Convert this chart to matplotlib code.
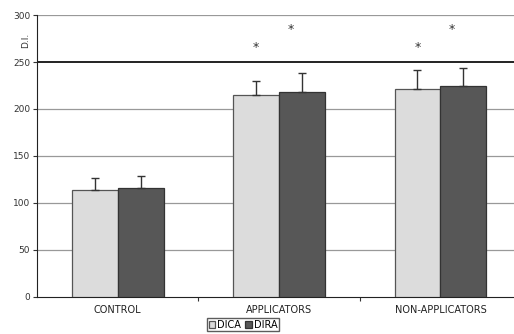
import matplotlib.pyplot as plt
import numpy as np

groups = ["CONTROL", "APPLICATORS", "NON-APPLICATORS"]
dica = [114, 215, 221]
dica_err = [13, 15, 21]
dira = [116, 218, 224]
dira_err = [13, 20, 20]
star_low = [None, 265, 265]
star_high = [None, 285, 285]
yticks = [0, 50, 100, 150, 200, 250, 300]

fig = plt.figure(figsize=(5.14, 3.34), dpi=100)
ax = fig.add_axes([0.072, 0.111, 0.942, 0.844])

x = np.arange(len(groups)) + 0.5
w = 0.285
ekw = dict(ecolor="#333333", elinewidth=1, capsize=3, capthick=1)

ax.bar(x - w/2, dica, w, yerr=[[0]*len(dica), dica_err], color="#dcdcdc", edgecolor="#555555",
       linewidth=0.9, error_kw=ekw, label="DICA", zorder=3)
ax.bar(x + w/2, dira, w, yerr=[[0]*len(dira), dira_err], color="#575757", edgecolor="#333333",
       linewidth=0.9, error_kw=ekw, label="DIRA", zorder=3)

for i in range(len(groups)):
    if star_low[i] is not None:
        ax.text(x[i] - w/2, star_low[i], "*", ha="center", va="center", fontsize=9, color="#333333")
    if star_high[i] is not None:
        ax.text(x[i] + w/2 - 0.07, star_high[i], "*", ha="center", va="center", fontsize=9, color="#333333")

for yv in yticks[1:]:
    if yv == 250:
        ax.axhline(yv, color="#111111", linewidth=1.3, zorder=1)
    else:
        ax.axhline(yv, color="#999999", linewidth=0.9, zorder=1)

ax.set_xlim(0, 3)
ax.set_ylim(0, 300)
ax.set_yticks(yticks)
ax.set_xticks([1, 2])
ax.set_xticklabels([])
ax.set_xticks(x, minor=True)
ax.set_xticklabels(groups, minor=True)
ax.tick_params(axis="x", which="minor", length=0, labelsize=7, pad=6, labelcolor="#222222")
ax.tick_params(axis="x", which="major", length=3, color="#333333")
ax.tick_params(axis="y", labelsize=6.5, length=3, pad=2, colors="#333333")
for s in ["top", "right"]:
    ax.spines[s].set_visible(False)
ax.spines["left"].set_color("#222222")
ax.spines["bottom"].set_color("#222222")

fig.text(0.05, 0.88, "D.I.", rotation=90, fontsize=6.5, ha="center", va="center", color="#333333")

ax.legend(loc="upper center", bbox_to_anchor=((243/514 - 0.072) / 0.942, -0.075),
          ncol=2, fontsize=7, frameon=True, fancybox=False, edgecolor="#333333",
          handlelength=0.7, handleheight=0.7, handletextpad=0.2, columnspacing=0.4,
          borderpad=0.15, borderaxespad=0)

fig.savefig("out.png", dpi=100)
